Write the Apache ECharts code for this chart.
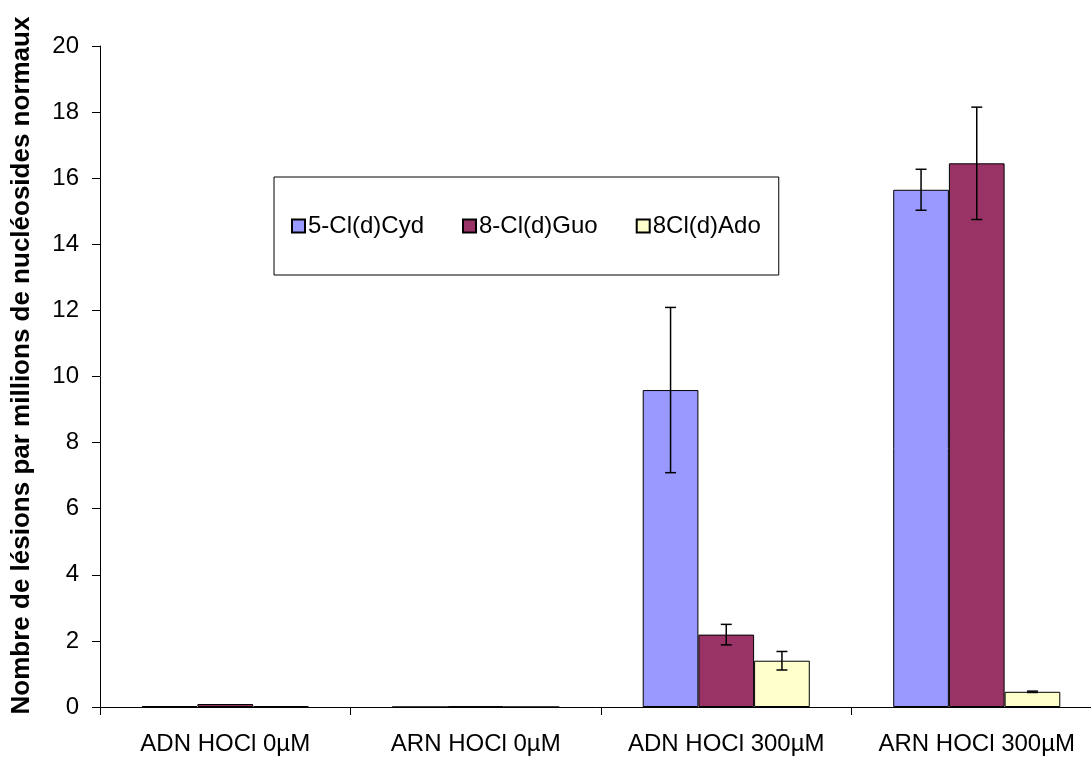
<!DOCTYPE html>
<html>
<head>
<meta charset="utf-8">
<script src="https://cdn.jsdelivr.net/npm/echarts@6/dist/echarts.min.js"></script>
<style>
html,body{margin:0;padding:0;background:#fff;}
#chart{width:1091px;height:758px;}
</style>
</head>
<body>
<div id="chart"></div>
<script>
// ---- data ----
const categories = ['ADN HOCl 0µM', 'ARN HOCl 0µM', 'ADN HOCl 300µM', 'ARN HOCl 300µM'];
const seriesNames = ['5-Cl(d)Cyd', '8-Cl(d)Guo', '8Cl(d)Ado'];
const cydValues = [0.03, 0, 9.59, 15.65];
const guoValues = [0.09, 0.02, 2.19, 16.45];
const adoValues = [0.03, 0, 1.40, 0.46];
const cydErrors = [0, 0, 2.5, 0.62];
const guoErrors = [0, 0, 0.31, 1.70];
const adoErrors = [0, 0, 0.28, 0.02];
const yTicks = {min: 0, max: 20, interval: 2};
const yTitle = 'Nombre de lésions par millions de nucléosides normaux';

const colors = ['#9999FF', '#993366', '#FFFFCC'];
const values = [cydValues, guoValues, adoValues];
const errors = [cydErrors, guoErrors, adoErrors];
const CAT_GAP = 0.333;
const FONT = 'Liberation Sans, Arial, sans-serif';

const chart = echarts.init(document.getElementById('chart'), null, {renderer: 'canvas'});

const barSeries = seriesNames.map((name, i) => ({
  name: name,
  type: 'bar',
  data: values[i],
  barGap: '0%',
  barCategoryGap: '33.3%',
  itemStyle: {color: colors[i], borderColor: '#000', borderWidth: 1},
  emphasis: {disabled: true},
  z: 2
}));

const errorSeries = seriesNames.map((name, i) => ({
  type: 'custom',
  name: name + ' err',
  data: values[i].map((v, k) => [k, v, errors[i][k]]),
  z: 5,
  silent: true,
  renderItem: function (params, api) {
    const k = api.value(0), v = api.value(1), e = api.value(2);
    if (!e) return null;
    const catW = api.size([1, 0])[0];
    const barW = catW * (1 - CAT_GAP) / 3;
    const center = api.coord([k, v]);
    const x = center[0] + (i - 1) * barW;
    const top = api.coord([k, v + e])[1];
    const bot = api.coord([k, v - e])[1];
    const cap = 5.5;
    const style = {stroke: '#000', lineWidth: 1.5};
    return {
      type: 'group',
      children: [
        {type: 'line', shape: {x1: x, y1: top, x2: x, y2: bot}, style: style},
        {type: 'line', shape: {x1: x - cap, y1: top, x2: x + cap, y2: top}, style: style},
        {type: 'line', shape: {x1: x - cap, y1: bot, x2: x + cap, y2: bot}, style: style}
      ]
    };
  }
}));

chart.setOption({
  backgroundColor: '#fff',
  animation: false,
  grid: {left: 100, top: 46, right: -11, bottom: 51, containLabel: false, outerBoundsMode: 'none'},
  legend: {
    data: seriesNames,
    left: 274, top: 177,
    orient: 'horizontal',
    icon: 'rect',
    itemWidth: 13, itemHeight: 13,
    itemGap: 38,
    padding: [37, 18, 37, 17],
    borderColor: '#000', borderWidth: 1,
    textStyle: {fontFamily: FONT, fontSize: 24, color: '#000', padding: [0, 0, 0, -2]},
    selectedMode: false
  },
  xAxis: {
    type: 'category',
    data: categories,
    axisLine: {lineStyle: {color: '#000', width: 1}},
    axisTick: {show: true, interval: 0, length: 8, lineStyle: {color: '#000'}},
    axisLabel: {interval: 0, hideOverlap: false, fontFamily: FONT, fontSize: 24, color: '#000', margin: 25},
    splitLine: {show: false}
  },
  yAxis: {
    type: 'value',
    min: yTicks.min, max: yTicks.max, interval: yTicks.interval,
    name: yTitle,
    nameLocation: 'middle',
    nameGap: 65,
    nameTextStyle: {fontFamily: FONT, fontSize: 26, fontWeight: 'bold', color: '#000', padding: [0, 0, 0, 22]},
    axisLine: {show: true, lineStyle: {color: '#000', width: 1}},
    axisTick: {show: true, length: 8, inside: false, lineStyle: {color: '#000'}},
    axisLabel: {fontFamily: FONT, fontSize: 24, color: '#000', margin: 21},
    splitLine: {show: false}
  },
  series: barSeries.concat(errorSeries)
});
</script>
</body>
</html>
